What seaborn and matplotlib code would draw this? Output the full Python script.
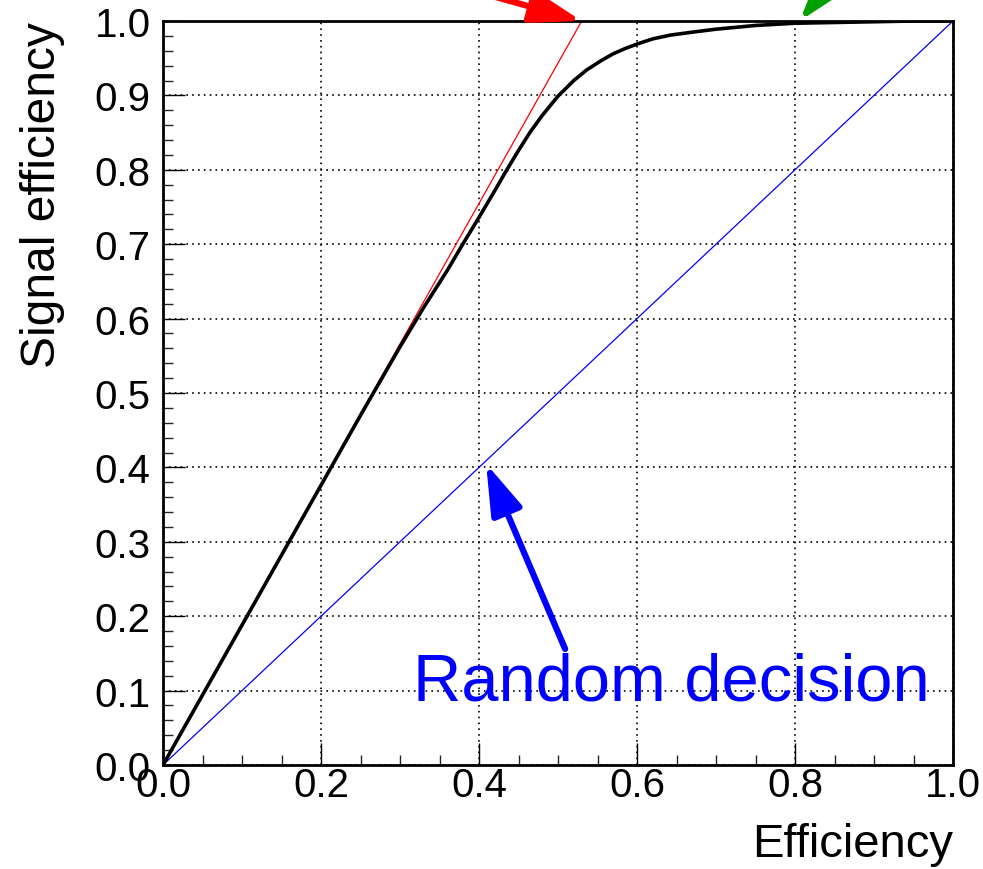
import numpy as np
import pandas as pd
import seaborn as sns
import matplotlib.pyplot as plt
from matplotlib.ticker import MultipleLocator

# ROC curve
roc_x = [0.0, 0.05, 0.1, 0.15, 0.2, 0.25, 0.3, 0.33, 0.36, 0.38, 0.40, 0.42, 0.433,
         0.45, 0.465, 0.48, 0.50, 0.52, 0.536, 0.555, 0.57, 0.585, 0.60, 0.62, 0.642,
         0.67, 0.70, 0.75, 0.80, 0.85, 0.90, 0.95, 1.0]
roc_y = [0.0, 0.094, 0.188, 0.282, 0.376, 0.47, 0.562, 0.615, 0.665, 0.701, 0.736,
         0.772, 0.796, 0.826, 0.851, 0.873, 0.899, 0.920, 0.934, 0.947, 0.956, 0.963,
         0.969, 0.976, 0.981, 0.985, 0.989, 0.994, 0.997, 0.998, 0.999, 1.0, 1.0]

# tangent line (red) and random decision (blue)
tangent_x = [0.0, 0.53]
tangent_y = [0.0, 1.0]
random_x = [0.0, 1.0]
random_y = [0.0, 1.0]

df_roc = pd.DataFrame({'eff': roc_x, 'sig': roc_y})
df_tan = pd.DataFrame({'eff': tangent_x, 'sig': tangent_y})
df_rnd = pd.DataFrame({'eff': random_x, 'sig': random_y})

sns.set_style('ticks')
plt.rcParams['font.family'] = ['Liberation Sans', 'DejaVu Sans']

fig = plt.figure(figsize=(9.83, 8.70), dpi=100)
ax = fig.add_axes([163/983, 1-766/870, 790/983, 744/870])

sns.lineplot(data=df_rnd, x='eff', y='sig', color='blue', lw=0.9, ax=ax)
sns.lineplot(data=df_tan, x='eff', y='sig', color='red', lw=0.9, ax=ax)
sns.lineplot(data=df_roc, x='eff', y='sig', color='black', lw=2.6, ax=ax)

ax.set_xlim(0, 1)
ax.set_ylim(0, 1)
ax.xaxis.set_major_locator(MultipleLocator(0.2))
ax.xaxis.set_minor_locator(MultipleLocator(0.05))
ax.yaxis.set_major_locator(MultipleLocator(0.1))
ax.yaxis.set_minor_locator(MultipleLocator(0.02))
ax.xaxis.set_major_formatter(plt.FormatStrFormatter('%.1f'))
ax.yaxis.set_major_formatter(plt.FormatStrFormatter('%.1f'))
ax.grid(True, which='major', color='black', linestyle=(0, (1, 2.5)), lw=1.2)

for s in ax.spines.values():
    s.set_linewidth(2.0)
    s.set_color('black')
ax.tick_params(axis='both', which='major', direction='in', length=16, width=1.0,
               labelsize=29, colors='black')
ax.tick_params(axis='both', which='minor', direction='in', length=7, width=1.0)
ax.tick_params(axis='x', which='major', pad=1)
ax.tick_params(axis='y', which='major', pad=9)

ax.set_xlabel('Efficiency', fontsize=34, loc='right', labelpad=13, color='black')
ax.set_ylabel('Signal efficiency', fontsize=34.5, loc='top', labelpad=21, color='black')

# arrows
arrow_style = '-|>,head_length=1.1,head_width=0.35'
ax.annotate('', xy=(0.53, 1.0), xytext=(0.26, 1.08), annotation_clip=False,
            arrowprops=dict(arrowstyle=arrow_style, color='red', lw=4.5,
                            mutation_scale=28, shrinkA=0, shrinkB=0))
ax.annotate('', xy=(0.806, 1.0), xytext=(0.875, 1.09), annotation_clip=False,
            arrowprops=dict(arrowstyle=arrow_style, color='#00a000', lw=4.5,
                            mutation_scale=28, shrinkA=0, shrinkB=0))
ax.annotate('', xy=(0.409, 0.405), xytext=(0.509, 0.156),
            arrowprops=dict(arrowstyle=arrow_style, color='blue', lw=4.5,
                            mutation_scale=28, shrinkA=0, shrinkB=0))
ax.text(0.316, 0.088, 'Random decision', color='blue', fontsize=48.2,
        ha='left', va='baseline')

fig.savefig('out.png', dpi=100)
